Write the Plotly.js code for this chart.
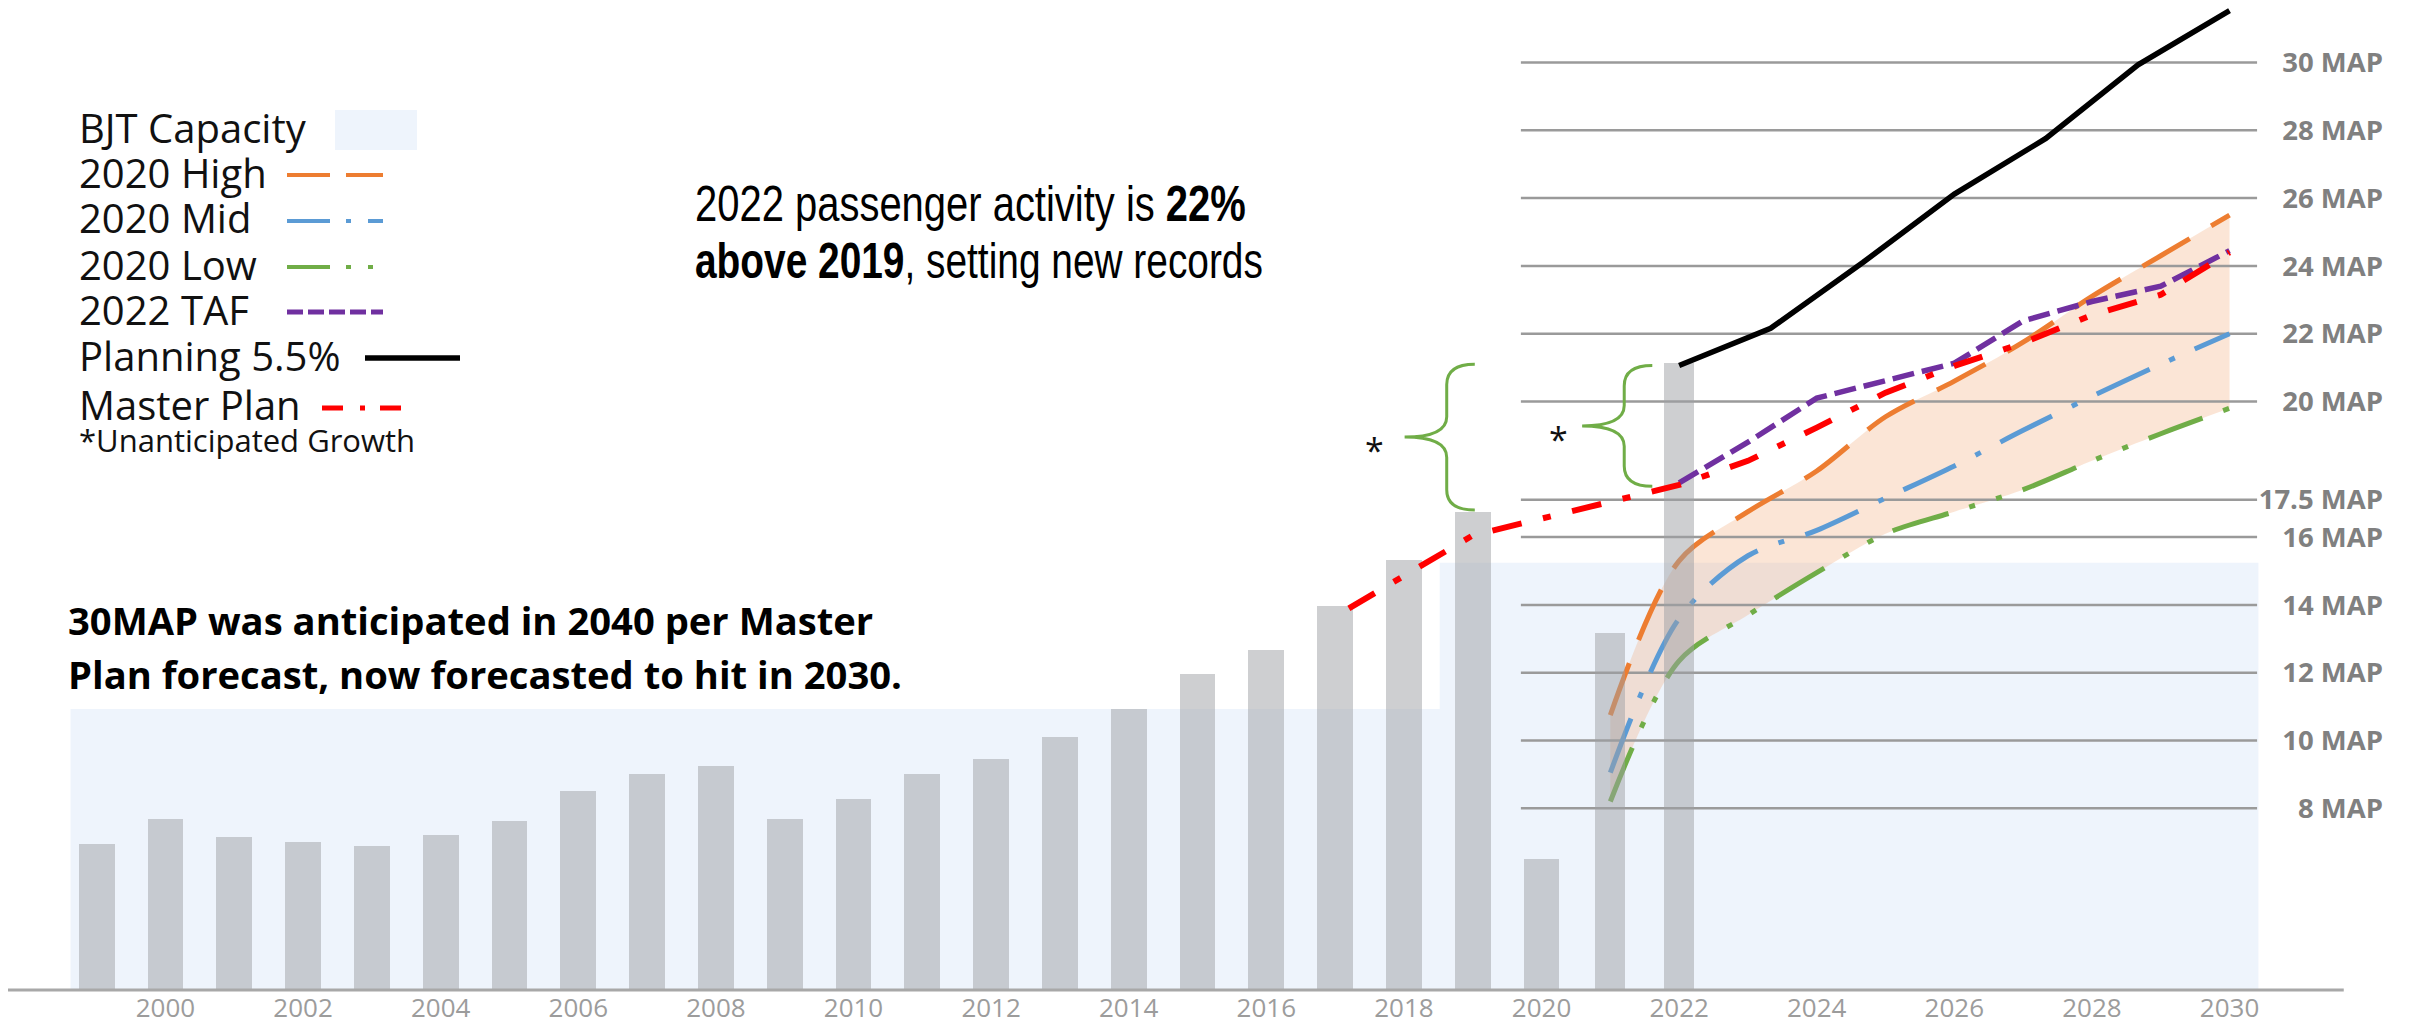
<!DOCTYPE html>
<html>
<head>
<meta charset="utf-8">
<script src="https://cdn.plot.ly/plotly-3.0.1.min.js"></script>
<style>html,body{margin:0;padding:0;background:#fff;}#chart{width:2412px;height:1023px;}</style>
</head>
<body>
<div id="chart"></div>
<script>
// ---------------- data (million annual passengers, MAP) ----------------
const years = [1999,2000,2001,2002,2003,2004,2005,2006,2007,2008,2009,2010,2011,2012,2013,2014,2015,2016,2017,2018,2019,2020,2021,2022];
const passengers = [6.95,7.68,7.16,7.01,6.88,7.22,7.63,8.52,9.02,9.25,7.69,8.28,9.00,9.45,10.11,10.93,11.97,12.67,13.97,15.32,16.75,6.50,13.16,21.13];

const capacityYears = [1998.62, 2018.52, 2030.42];
const capacityValues = [10.93, 15.24, 15.24];

const forecastYears = [2021,2022,2023,2024,2025,2026,2027,2028,2029,2030];
const high2020 = [10.75,15.30,16.75,17.95,19.55,20.60,21.75,23.10,24.30,25.50];
const mid2020  = [9.05,13.60,15.45,16.20,17.15,18.10,19.15,20.15,21.10,22.00];
const low2020  = [8.20,12.35,13.70,14.95,16.10,16.75,17.40,18.25,19.05,19.80];

const tafYears = [2022,2023,2024,2025,2026,2027,2028,2029,2030];
const taf2022  = [17.60,18.80,20.10,20.60,21.13,22.38,22.95,23.40,24.45];

const planningYears = [2022,2023.33,2024.67,2026,2027.33,2028.67,2030];
const planning55    = [21.06,22.16,24.10,26.12,27.76,29.93,31.53];

const masterYears = [2017.2,2019,2022,2023,2024,2025,2026,2027,2028,2029,2030];
const masterPlan  = [13.90,16.05,17.54,18.25,19.23,20.26,21.05,21.73,22.55,23.15,24.40];

const gridValues = [8,10,12,14,16,17.1,20,22,24,26,28,30];
const gridLabels = ['8 MAP','10 MAP','12 MAP','14 MAP','16 MAP','17.5 MAP','20 MAP','22 MAP','24 MAP','26 MAP','28 MAP','30 MAP'];
const gridSpan = [2019.7, 2030.4];

const xTickYears = [2000,2002,2004,2006,2008,2010,2012,2014,2016,2018,2020,2022,2024,2026,2028,2030];

// unanticipated-growth braces: [year at right edge, top MAP, bottom MAP]
const braceRight  = [2019.03, 2021.61];
const braceTop    = [21.10, 21.06];
const braceBottom = [16.80, 17.50];

// ---------------- styling / layout ----------------
const XR = [1997.711, 2032.274];
const YR = [2.64, 31.844];
const ML = 8, MR = 26, MT = 0, MB = 33, W = 2412, H = 1023;
const PW = W - ML - MR, PH = H - MT - MB;
const px = x => (x - ML) / PW;          // page pixel -> paper
const py = y => (PH + MT - y) / PH;     // page pixel (from top) -> paper

const C = {orange:'#ed7d31', blue:'#5b9bd5', green:'#70ad47', purple:'#7030a0', red:'#ff0000', black:'#000000', cap:'#eef4fc', grid:'#9a9a9a'};
const DASH = {high:'55px,25px', mid:'58px,22px,6px,22px', low:'58px,22px,6px,22px,6px,22px', taf:'22px,8px', master:'30px,22px,8px,22px'};

// grid segments built from gridValues
const gx = [], gy = [];
gridValues.forEach(v => { gx.push(gridSpan[0], gridSpan[1], null); gy.push(v, v, null); });

const traces = [
  // ---- base subplot (x, y): under the bars ----
  {type:'scatter', x:capacityYears, y:capacityValues, mode:'lines', line:{shape:'hv', width:0, color:C.cap}, fill:'tozeroy', fillcolor:C.cap, hoverinfo:'skip'},
  {type:'scatter', x:forecastYears, y:high2020, mode:'lines', line:{shape:'spline', smoothing:0.9, width:0}, hoverinfo:'skip'},
  {type:'scatter', x:forecastYears, y:low2020, mode:'lines', line:{shape:'spline', smoothing:0.9, width:0}, fill:'tonexty', fillcolor:'rgba(242,168,118,0.30)', hoverinfo:'skip'},
  {type:'scatter', x:gx, y:gy, mode:'lines', line:{color:C.grid, width:2.5}, hoverinfo:'skip', connectgaps:false},
  {type:'scatter', name:'2020 Low', x:forecastYears, y:low2020, mode:'lines', line:{shape:'spline', smoothing:0.9, color:C.green, width:5, dash:DASH.low}},
  {type:'scatter', name:'2020 Mid', x:forecastYears, y:mid2020, mode:'lines', line:{shape:'spline', smoothing:0.9, color:C.blue, width:5, dash:DASH.mid}},
  {type:'scatter', name:'2020 High', x:forecastYears, y:high2020, mode:'lines', line:{shape:'spline', smoothing:0.9, color:C.orange, width:5, dash:DASH.high}},
  // ---- overlay subplot (x, y2): bars and upper lines ----
  {type:'bar', name:'Passengers', x:years, y:passengers, yaxis:'y2', width:years.map(y => y >= 2021 ? 0.44 : 0.52), marker:{color:'rgba(158,160,164,0.50)', line:{width:0}}},
  {type:'scatter', name:'2022 TAF', x:tafYears, y:taf2022, yaxis:'y2', mode:'lines', line:{color:C.purple, width:5.5, dash:DASH.taf}},
  {type:'scatter', name:'Master Plan', x:masterYears, y:masterPlan, yaxis:'y2', mode:'lines', line:{color:C.red, width:6, dash:DASH.master}},
  {type:'scatter', name:'Planning 5.5%', x:planningYears, y:planning55, yaxis:'y2', mode:'lines', line:{color:C.black, width:5.5}}
];

// ---------------- shapes ----------------
const shapes = [];
// x axis line
shapes.push({type:'line', xref:'x', yref:'paper', x0:XR[0], x1:2031.66, y0:0, y1:0, line:{color:'#a8a8a8', width:3}, layer:'above'});
// braces
braceRight.forEach((xr, i) => {
  const w = 1.02, xl = xr - w, xm = xr - 0.40 * w;
  const t = braceTop[i], b = braceBottom[i], m = (t + b) / 2, h = 0.6;
  const p = `M${xr},${t} Q${xm},${t} ${xm},${t-h} L${xm},${m+h} Q${xm},${m} ${xl},${m} Q${xm},${m} ${xm},${m-h} L${xm},${b+h} Q${xm},${b} ${xr},${b}`;
  shapes.push({type:'path', xref:'x', yref:'y', path:p, line:{color:C.green, width:3}, layer:'above'});
});
// legend swatches (page pixel positions)
function lgLine(x0, x1, y, color, width, dash) {
  shapes.push({type:'line', xref:'paper', yref:'paper', x0:px(x0), x1:px(x1), y0:py(y), y1:py(y), line:{color, width, dash}});
}
shapes.push({type:'rect', xref:'paper', yref:'paper', x0:px(335), x1:px(417), y0:py(150), y1:py(110), fillcolor:C.cap, line:{width:0}});
lgLine(287, 383, 175, C.orange, 4, '43px,16px');
lgLine(287, 383, 221, C.blue, 4, '43px,16px,5px,17px');
lgLine(287, 374, 267, C.green, 4, '43px,16px,5px,17px,5px,17px');
lgLine(287, 383, 312, C.purple, 5, '16px,5px');
lgLine(365, 460, 358, C.black, 5.5, 'solid');
lgLine(322, 403, 408, C.red, 5, '21px,17px,5px,15px');

// ---------------- annotations ----------------
const ann = [];
const squeeze = {};   // annotation index -> target pixel width (condensed face emulation)
const LGF = {family:'Open Sans, sans-serif', size:40, color:'#111111'};
function txt(x, y, text, font, anchor) {
  ann.push({xref:'paper', yref:'paper', x:px(x), y:py(y), xanchor:anchor || 'left', yanchor:'middle', text, font, showarrow:false, align:'left'});
  return ann.length - 1;
}
const legendNames = ['BJT Capacity','2020 High','2020 Mid','2020 Low','2022 TAF','Planning 5.5%','Master Plan'];
const legendRows = [130,175,221,267,312,358,408];
legendNames.forEach((n, i) => txt(77, legendRows[i] - 3, n, LGF));
txt(77, 440, '*Unanticipated Growth', {family:'Open Sans, sans-serif', size:31, color:'#111111'});

const NAR = {family:'Liberation Sans, Arial, sans-serif', size:50, color:'#000000'};
squeeze[txt(693, 204, '2022 passenger activity is <b>22%</b>', NAR)] = 551;
squeeze[txt(693, 261, '<b>above 2019</b>, setting new records', NAR)] = 568;

const BLD = {family:'Open Sans, sans-serif', size:38.2, color:'#000000', weight:700};
txt(66, 620, '30MAP was anticipated in 2040 per Master', BLD);
txt(66, 674, 'Plan forecast, now forecasted to hit in 2030.', BLD);

const STAR = {family:'Open Sans, sans-serif', size:34, color:'#111111'};
txt(1374, 450, '*', STAR, 'center');
txt(1558, 439, '*', STAR, 'center');

const layout = {
  width:W, height:H,
  margin:{l:ML, r:MR, t:MT, b:MB, pad:0},
  paper_bgcolor:'#ffffff', plot_bgcolor:'rgba(0,0,0,0)',
  showlegend:false, hovermode:false, bargap:0,
  xaxis:{range:XR, tickvals:xTickYears, ticktext:xTickYears.map(String), ticks:'', showgrid:false, zeroline:false, showline:false,
         tickfont:{family:'Open Sans, sans-serif', size:26, color:'#9c9c9c'}, fixedrange:true},
  yaxis:{range:YR, side:'right', ticklabelposition:'inside', tickvals:gridValues, ticktext:gridLabels, ticks:'',
         showgrid:false, zeroline:false, showline:false,
         tickfont:{family:'Open Sans, sans-serif', size:27.5, color:'#808080', weight:700}, fixedrange:true},
  yaxis2:{range:YR, overlaying:'y', visible:false, showgrid:false, zeroline:false, fixedrange:true},
  shapes:shapes, annotations:ann
};

Plotly.newPlot('chart', traces, layout, {displayModeBar:false, staticPlot:true}).then(() => {
  Object.keys(squeeze).forEach(k => {
    const el = document.querySelector(`g.annotation[data-index="${k}"] text.annotation-text`);
    if (!el) return;
    const bb = el.getBBox();
    const s = squeeze[k] / bb.width;
    el.setAttribute('transform', `translate(${bb.x},0) scale(${s},1) translate(${-bb.x},0)`);
  });
});
</script>
</body>
</html>
